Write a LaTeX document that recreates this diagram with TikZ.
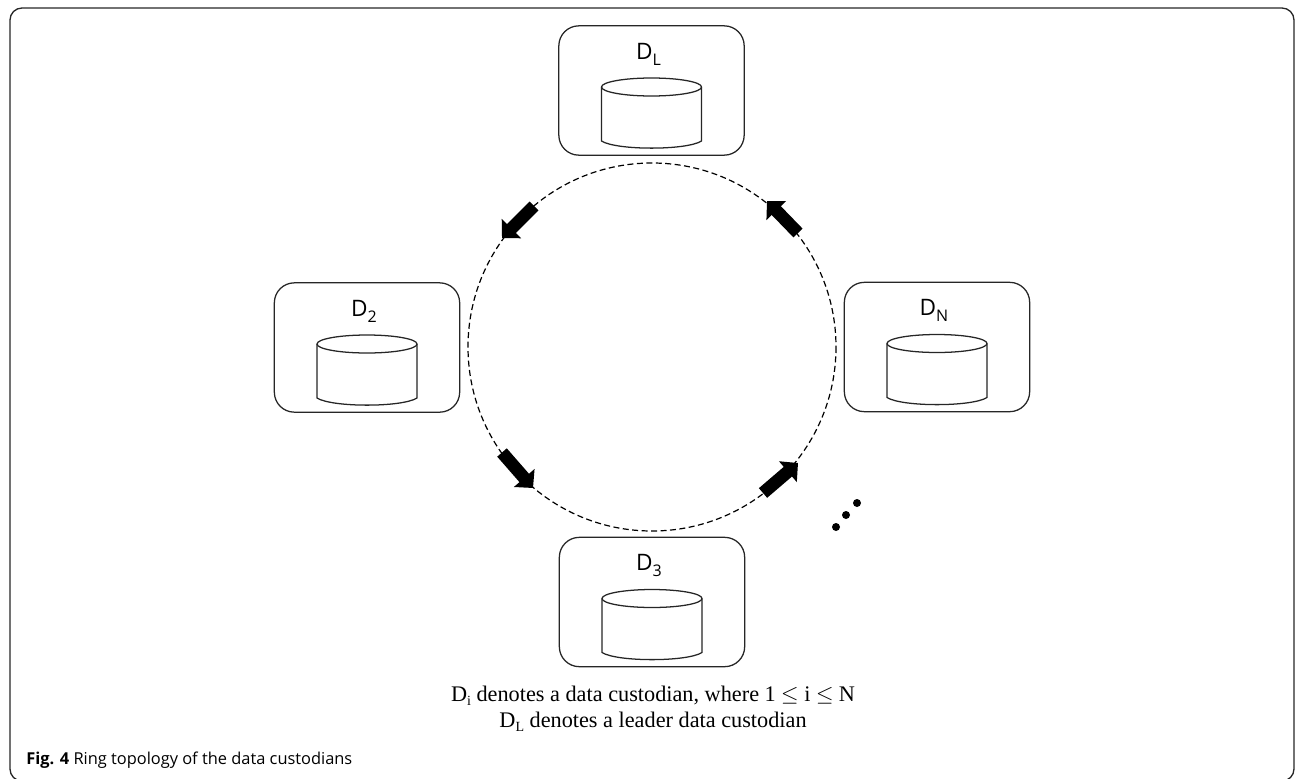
\documentclass[tikz,border=0pt]{standalone}
\usepackage{fontspec}
\setmainfont{Liberation Serif}
\setsansfont{Open Sans}
\usepackage{unicode-math}
\setmathfont{Latin Modern Math}
\usetikzlibrary{arrows.meta}
\newcommand{\subs}[1]{\raisebox{-4.5pt}{\fontsize{12}{12}\selectfont #1}}
\newcommand{\sers}[1]{\raisebox{-3pt}{\fontsize{10.5}{12}\selectfont #1}}
\tikzset{
  x=0.75pt,y=-0.75pt,
  custbox/.style={draw=black!85,line width=0.95pt,rounded corners=15pt,minimum width=139pt,minimum height=97pt,inner sep=0pt},
  drum/.style={draw=black!85,line width=0.95pt,fill=white},
  pageframe/.style={draw=black!85,line width=1pt,rounded corners=9pt},
  ringline/.style={draw=black,line width=0.9pt,dash pattern=on 4.5pt off 2.6pt},
  flow/.style={line width=9.5pt,draw=black,-{Triangle[length=10pt,width=20pt]}},
  lbl/.style={font=\sffamily\fontsize{17}{18}\selectfont,inner sep=0pt},
  note/.style={font=\fontsize{16.7}{18}\selectfont,inner sep=0pt,anchor=base},
  captext/.style={font=\sffamily\fontsize{12.3}{14}\selectfont,inner sep=0pt,anchor=base west},
}
\newcommand{\custodian}[4]{%
  \node[custbox] (#1) at (#2,#3) {};
  \begin{scope}[shift={(#2,#3)}]
    \node[lbl,anchor=base] (#1lab) at (-3,-31.5) {D\subs{#4}};
    \draw[drum] (-50,-3.5) -- (-50,50.5) .. controls (-35,60) and (35,60) .. (50,50.5) -- (50,-3.5);
    \draw[drum] (0,-3.5) ellipse [x radius=50,y radius=9];
  \end{scope}}
\begin{document}
\begin{tikzpicture}
\useasboundingbox (0,0) rectangle (1295,778);
\path[pageframe] (10,8) -- (1294,8) -- (1294,781) -- (10,781) -- cycle;
\coordinate (ringc) at (652,347);
\draw[ringline] (ringc) circle [radius=184];
\custodian{dl}{651.5}{90.5}{L}
\custodian{d2}{367}{347.5}{2}
\custodian{dn}{937}{347}{N}
\custodian{d3}{652}{602}{3}
\coordinate (a1s) at (534,206); \coordinate (a1e) at (502,238);
\coordinate (a2s) at (798,233); \coordinate (a2e) at (767,201);
\coordinate (a3s) at (502,452.5); \coordinate (a3e) at (533,488);
\coordinate (a4s) at (763,493); \coordinate (a4e) at (798,463);
\draw[flow] (a1s) -- (a1e);
\draw[flow] (a2s) -- (a2e);
\draw[flow] (a3s) -- (a3e);
\draw[flow] (a4s) -- (a4e);
\fill (836,527) circle [radius=4] (846,515) circle [radius=4] (857,503) circle [radius=4];
\node[note] (n1) at (653,701) {D\sers{i} denotes a data custodian, where 1 $\leq$ i $\leq$ N};
\node[note] (n2) at (653,727) {D\sers{L} denotes a leader data custodian};
\node[captext] (c) at (26,764) {\textbf{Fig. 4} Ring topology of the data custodians};
\end{tikzpicture}
\end{document}
